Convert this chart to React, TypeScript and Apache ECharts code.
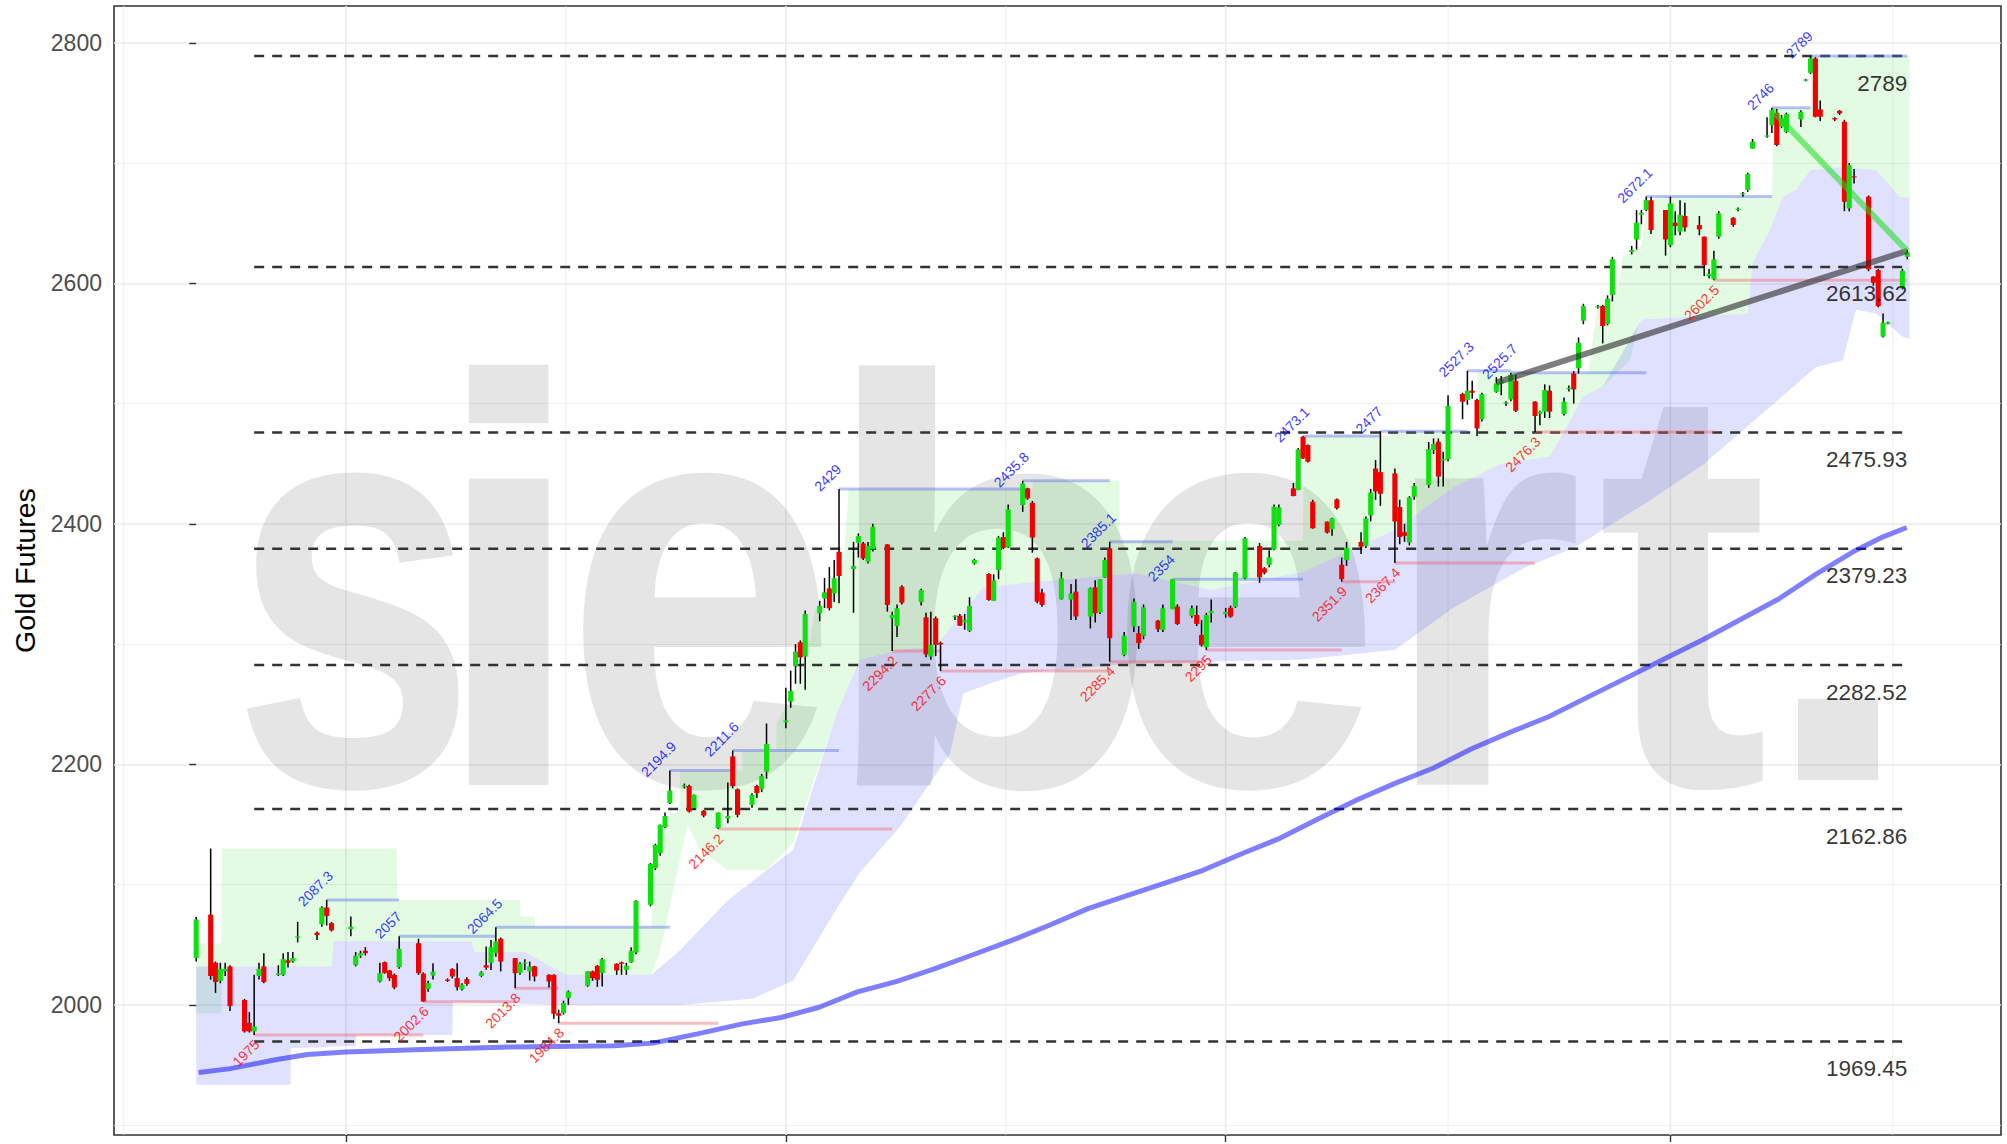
import React, { useEffect, useRef } from "react";
import * as echarts from "echarts";

const FONT = "Liberation Sans, Arial, Helvetica, sans-serif";
const ORIGIN = "2023-12-01";

const candleDates = [
  "2023-12-01","2023-12-04","2023-12-05","2023-12-06","2023-12-07","2023-12-08","2023-12-11","2023-12-12","2023-12-13","2023-12-14",
  "2023-12-15","2023-12-18","2023-12-19","2023-12-20","2023-12-21","2023-12-22","2023-12-26","2023-12-27","2023-12-28","2023-12-29",
  "2024-01-02","2024-01-03","2024-01-04","2024-01-05","2024-01-08","2024-01-09","2024-01-10","2024-01-11","2024-01-12","2024-01-16",
  "2024-01-17","2024-01-18","2024-01-19","2024-01-22","2024-01-23","2024-01-24","2024-01-25","2024-01-26","2024-01-29","2024-01-30",
  "2024-01-31","2024-02-01","2024-02-02","2024-02-05","2024-02-06","2024-02-07","2024-02-08","2024-02-09","2024-02-12","2024-02-13",
  "2024-02-14","2024-02-15","2024-02-16","2024-02-20","2024-02-21","2024-02-22","2024-02-23","2024-02-26","2024-02-27","2024-02-28",
  "2024-02-29","2024-03-01","2024-03-04","2024-03-05","2024-03-06","2024-03-07","2024-03-08","2024-03-11","2024-03-12","2024-03-13",
  "2024-03-15","2024-03-18","2024-03-20","2024-03-21","2024-03-22","2024-03-25","2024-03-26","2024-03-27","2024-03-28","2024-04-01",
  "2024-04-02","2024-04-03","2024-04-04","2024-04-05","2024-04-08","2024-04-09","2024-04-10","2024-04-11","2024-04-12","2024-04-15",
  "2024-04-16","2024-04-17","2024-04-18","2024-04-19","2024-04-22","2024-04-23","2024-04-24","2024-04-25","2024-04-29","2024-04-30",
  "2024-05-01","2024-05-02","2024-05-03","2024-05-06","2024-05-07","2024-05-08","2024-05-09","2024-05-10","2024-05-13","2024-05-14",
  "2024-05-15","2024-05-16","2024-05-17","2024-05-20","2024-05-21","2024-05-22","2024-05-23","2024-05-24","2024-05-28","2024-05-30",
  "2024-05-31","2024-06-03","2024-06-04","2024-06-05","2024-06-06","2024-06-07","2024-06-10","2024-06-12","2024-06-13","2024-06-14",
  "2024-06-17","2024-06-18","2024-06-20","2024-06-21","2024-06-24","2024-06-25","2024-06-26","2024-06-27","2024-06-28","2024-07-01",
  "2024-07-02","2024-07-03","2024-07-05","2024-07-08","2024-07-09","2024-07-10","2024-07-11","2024-07-12","2024-07-15","2024-07-16",
  "2024-07-17","2024-07-18","2024-07-19","2024-07-22","2024-07-23","2024-07-24","2024-07-25","2024-07-26","2024-07-29","2024-07-30",
  "2024-07-31","2024-08-01","2024-08-02","2024-08-05","2024-08-06","2024-08-07","2024-08-08","2024-08-09","2024-08-12","2024-08-13",
  "2024-08-14","2024-08-15","2024-08-16","2024-08-19","2024-08-20","2024-08-21","2024-08-22","2024-08-23","2024-08-26","2024-08-27",
  "2024-08-28","2024-08-29","2024-08-30","2024-09-03","2024-09-04","2024-09-05","2024-09-06","2024-09-09","2024-09-10","2024-09-11",
  "2024-09-12","2024-09-13","2024-09-16","2024-09-17","2024-09-18","2024-09-19","2024-09-23","2024-09-24","2024-09-25","2024-09-26",
  "2024-09-27","2024-09-30","2024-10-01","2024-10-02","2024-10-03","2024-10-04","2024-10-07","2024-10-08","2024-10-09","2024-10-10",
  "2024-10-11","2024-10-14","2024-10-15","2024-10-16","2024-10-17","2024-10-18","2024-10-21","2024-10-22","2024-10-23","2024-10-24",
  "2024-10-25","2024-10-28","2024-10-29","2024-10-30","2024-10-31","2024-11-01","2024-11-04","2024-11-05","2024-11-06","2024-11-07",
  "2024-11-08","2024-11-11","2024-11-12","2024-11-13","2024-11-14","2024-11-15","2024-11-18","2024-11-19",
];
const candleOpen = [
  2039,2075,2035,2020,2028,2032,2004,1985,1978,2024,2032,2025,2025,2037,2036,2056,2060,2067,2081,2068,
  2063,2033,2041,2045,2019.5,2035.5,2028.6,2025,2031.4,2051.3,2026,2013.2,2024.5,2021,2029.7,2022.2,2013,2021.4,2024,2033,
  2035,2043,2055,2038.9,2026.4,2034.5,2027.8,2032,2025,2025,1993,1993.2,2005.6,2015.9,2027.8,2032.5,2026.4,2034.2,2035.3,2029.2,
  2035.3,2043.6,2083.2,2113.6,2126.1,2147.7,2167.7,2181.5,2182,2163.5,2161.3,2146.9,2155,2206.5,2179.3,2166.3,2182,2179.3,2194,2235,
  2252.2,2281.8,2301.5,2289.6,2325.6,2338,2346.3,2342.2,2376.8,2362.4,2384.3,2383.7,2368.5,2378.8,2382.9,2321.5,2315,2347.7,2335,2322.3,
  2289.6,2321.5,2301,2323.4,2323.6,2318,2311,2367,2358.3,2336,2361.6,2389,2380.4,2415.6,2429.5,2417.5,2371.3,2342.8,2337.3,2337,
  2343.6,2322.9,2347.2,2326.2,2355.3,2379.6,2291,2314.6,2309,2306.8,2319.5,2311.8,2329,2331.2,2323.4,2324.2,2307.6,2297.4,2325.6,2325,
  2330.3,2331,2354.7,2381.6,2363,2365.8,2378.8,2399.2,2429.5,2428.1,2472.4,2465.5,2418.4,2401.8,2395.5,2420.4,2366,2370,2385,2381.6,
  2407,2446,2443,2442,2414,2393,2384.5,2422.6,2432.3,2461.4,2468.3,2452.6,2453.7,2508,2503,2510.7,2503,2486.9,2509.8,2516.8,
  2500,2503.5,2519,2501.6,2491.4,2493.3,2510.7,2491.4,2512,2525,2529.3,2568.9,2580,2581.1,2566.2,2590.3,2626,2636.5,2657,2661,
  2669,2661,2631.8,2650.4,2643,2656,2648.5,2638.8,2606,2603.3,2638.8,2654.5,2661.5,2674,2677.5,2712,2722,2731.5,2741.8,2730.2,
  2726,2736.3,2768.5,2775,2787,2744.6,2737.4,2743.5,2734.3,2662.3,2689,2672,2605.5,2611,2555.7,2566.7,2595.8,2622,
];
const candleHigh = [
  2073,2130,2036,2035,2035,2033,2005,1994,2025,2035,2043,2033,2043,2044,2044,2069,2061,2082,2087.3,2069,
  2073.5,2044,2045,2048,2035,2036,2029,2026,2057,2055,2027,2020,2034.7,2022,2030.5,2034.7,2018,2023,2028,2048.6,
  2054,2064.5,2056,2039,2035.5,2038,2036,2032.5,2025.5,2025.5,1996,2003.5,2012,2028,2028.5,2033,2039,2034.5,2036,2035,
  2048,2087,2118,2134,2150,2160,2194.9,2184,2183,2175,2162,2160,2185,2211.6,2180,2176,2183,2192,2234,2263.8,
  2278,2300,2303,2328,2336,2355,2364,2370,2429,2385,2392,2385,2385,2400,2383,2327,2333,2349,2346,2326,
  2327,2323,2302,2324,2325,2325,2339,2371,2359,2358,2390,2393,2416,2435.8,2430,2419,2372,2346,2360,2350,
  2354,2347,2353,2354,2372,2385.1,2310,2338,2315,2333,2320,2333,2354,2333,2332,2332,2320,2326,2337,2330,
  2332,2360,2389,2384,2364,2378,2416,2416,2434,2463,2473.1,2466,2420,2402,2405,2421,2372,2385,2393,2406,
  2429,2453,2477,2446,2420,2400,2423,2434,2468,2471,2471,2460,2507,2509,2527.3,2519,2504,2509,2522,2523,
  2502,2525.7,2524,2502,2494,2516,2515,2505,2515,2527,2555,2583,2582,2582,2590,2622,2631,2661,2661,2672.1,
  2672,2661,2672,2660,2669,2667,2656,2639,2612,2627,2660,2655,2663,2676,2692,2720,2738,2746,2745,2740,
  2742,2744,2770,2789,2788,2752,2738,2744,2736,2700,2695,2673,2606,2612,2575,2568,2612,2628,
];
const candleLow = [
  2036,2021,2010,2018,2024,1995,1977,1977,1975,2021,2018,2024,2024,2031,2035,2052,2054,2065,2066,2061,
  2057,2032,2039,2041,2018.6,2026,2020,2013,2030,2025,2002.6,2011,2021,2019,2022,2012,2012,2016,2023,2029.2,
  2029,2040,2027.8,2013.8,2025,2029,2020.3,2019.5,2014.5,1988.5,1984.8,1992,2000,2015,2020,2015,2015.3,2025,2025,2025,
  2035,2042,2082,2112,2124,2147,2167,2180,2160,2162,2156,2146.2,2151,2180,2156,2164,2172,2177,2188,2230,
  2247,2267,2267,2262,2319,2330,2328,2335,2334,2326,2372,2370,2367,2377,2327,2294.2,2306,2333,2332,2289,
  2287,2290,2277.6,2320,2315,2312,2310,2366,2336,2336,2354,2379,2380,2410,2420,2376,2334,2331,2337,2320,
  2320,2313,2318,2325,2355,2285.4,2290,2310,2296,2304,2310,2310,2329,2316,2322,2315,2298,2295,2318,2322,
  2322,2330,2354,2351,2358,2364,2378,2398,2423,2428,2454,2451,2396,2392,2390,2412,2351.9,2365,2375,2380,
  2402,2420,2415,2367.4,2383,2385,2382,2420,2430,2458,2431,2431,2452,2487,2499,2504,2473,2485,2509,2507,
  2498,2502,2493,2476.3,2482,2488,2488,2490,2510,2500,2525,2566,2579,2550,2565,2585,2624,2628,2649,2660,
  2641,2623,2630,2640,2640,2643,2640,2606,2604,2602.5,2637,2647,2660,2672,2676,2712,2721,2725,2714,2729,
  2725,2730,2768,2774,2738,2735,2735,2740,2660,2660,2683,2610,2598,2580,2555,2566,2595,2620,
];
const candleClose = [
  2071,2024,2019,2030,2030,1999,1978,1978,1982,2030,2019,2026,2038,2035,2039,2057,2058,2081,2074,2062,
  2065,2041,2043,2043,2026.4,2026.4,2022.2,2014.5,2046.6,2026.4,2002.8,2018.1,2027.6,2020,2023.6,2014.8,2016.7,2017.5,2027,2031,
  2048,2052.7,2036,2026.4,2034.2,2035.3,2032,2023.6,2019.5,1992.6,1991,2001.5,2011.1,2027.8,2022.2,2020.8,2038,2028.6,2034.2,2032.5,
  2045,2086.5,2117.3,2133,2149.7,2157.1,2178.2,2182.5,2160.7,2174.6,2157.4,2159.9,2157,2182,2158,2174.6,2176,2190.4,2217,2236.5,
  2261,2293.7,2289,2325,2331.7,2343,2329.8,2354.7,2356.6,2364.9,2389.8,2371.3,2381.5,2397.6,2332.5,2324.2,2329.8,2334.4,2345,2291.5,
  2299.3,2299.3,2299.8,2323.6,2315.3,2320,2331.7,2370,2336.7,2353,2388.5,2380,2412,2433.6,2421.1,2388.7,2335.3,2332.5,2354.7,2342,
  2322.9,2346.4,2325.6,2353.9,2370,2304.9,2307,2335.3,2300.7,2330.6,2312.3,2329.8,2353.9,2316.8,2329.8,2316.8,2299.3,2324.2,2327.6,2327,
  2322.9,2359.4,2388,2355.5,2359.4,2372.2,2414.3,2413.7,2423.1,2461.9,2454.4,2451.7,2396.3,2392.7,2404.6,2413,2354,2380,2381,2404.6,
  2426,2427,2425,2402,2389,2390,2422,2431.5,2462,2466.4,2439.3,2453.9,2498,2501.6,2510.7,2509,2479.4,2507.9,2516.8,2519,
  2501,2524,2494,2489.7,2493.3,2511.3,2493.3,2501.6,2513,2511.8,2550.6,2581.1,2581,2564.5,2587.4,2620,2627.7,2650.4,2658.7,2669.2,
  2644.3,2636.5,2666.5,2647.6,2656.8,2646.5,2644.9,2615.2,2608,2619.9,2658.2,2648.5,2662,2675,2690.8,2717.7,2723,2744,2715,2737,
  2740.7,2742.6,2769.5,2787,2738.5,2738.5,2736.3,2741.3,2667.8,2698.3,2688.6,2611.6,2600.5,2581,2567.3,2567.5,2610.5,2626,
];

// Moving average: day offset / value
const maDays = [0.5,7.1,16.4,23,31,46.8,65.4,86.5,94.5,103.7,113,121,128.9,136.8,144.8,152.7,160.7,168.6,176.5,184.5,192.4,200.4,208.3,216.3,224.2,232.1,240.1,248,256,263.9,271.9,279.8,287.7,295.7,303.6,311.6,319.5,327.4,335.4,343.3,348.6,353.9];
const maValues = [1943.8,1947,1954.4,1958.7,1960.8,1962.9,1965,1966,1968.2,1975.9,1984.2,1989.5,1998,2010.8,2019.3,2030,2041.7,2053.4,2066.2,2080,2090.6,2101.2,2111.9,2125.7,2138.5,2154.5,2170.4,2184.2,2197,2213,2226.8,2239.6,2255.5,2271.5,2287.4,2303.4,2320.4,2337.5,2358.8,2377.9,2388.5,2397];

// Upper (green) band edges: day offset / value
const greenTopDays = [0,5.2,5.3,41.5,41.6,67,67.1,70,70.1,94.2,94.3,95,96,97,98,100,100.1,113,113.1,120,120.1,124,125,126,127,128,131,132,133,134,135,173,173.1,191,191.1,229,229.1,247,247.1,265,265.1,274,274.1,288,289,290,294,295,299,300,302,326,326.5,334,334.1,354.5];
const greenTopValues = [2051,2051,2130,2130,2087.3,2087.3,2073.5,2073.5,2064.5,2064.5,2087,2118,2134,2150,2160,2160,2194.9,2194.9,2211.6,2211.6,2234,2264,2278,2300,2303,2328,2336,2355,2364,2370,2429,2429,2435.8,2435.8,2386,2386,2473.1,2473.1,2477,2477,2527.3,2527.3,2525.7,2525.7,2555,2583,2590,2622,2631,2661,2672.1,2672.1,2746,2746,2789,2789];
const greenBottomDays = [0,5.2,5.3,28,28.5,57,57.5,68,76.5,94.2,96,99,101.7,104,110,118,123.5,132.5,137.3,145.6,153,162.8,171.8,194.4,210,229,248,260,270,280,284,287,291,296.6,298.7,321,322,325.5,328.3,331,334,340.7,347.6,352.4,354.5];
const greenBottomValues = [1993,1993,2032,2032,2053,2053,2044,2044,2025,2025,2045,2100,2150,2130,2112,2112,2135,2242,2287,2295,2298,2347,2351,2359,2345,2360,2395,2430,2450,2456,2484,2506,2514,2536,2570,2575,2617,2644,2672,2678,2694,2697,2694,2672,2671];

// Lower (blue) band edges: day offset / value
const blueTopDays = [0,28,28.5,57,57.5,68,76.5,94.2,100,110,118,123.5,132.5,137.3,145.6,153,162.8,171.8,194.4,210,229,248,260,270,280,284,287,291,299,321,322,325.5,328.3,331,334,340.7,347.6,352.4,354.5];
const blueTopValues = [2032,2032,2053,2053,2044,2044,2025,2025,2045,2087,2112,2129,2242,2287,2295,2298,2347,2351,2359,2345,2360,2395,2430,2450,2456,2484,2506,2514,2570,2575,2617,2644,2672,2678,2694,2697,2694,2672,2671];
const blueBottomDays = [0,19.5,19.6,33,33.1,53,53.1,76.5,100,115,123.5,132.5,137.3,145.6,156,158.7,164.8,171,194.4,228.3,248,260,275,285,301,312,325,335,340.7,343.4,347.6,352.9,354.5];
const blueBottomValues = [1933.5,1933.5,1964,1966,1975,1975,2002.6,2000,2000,2005,2020,2080,2110,2148,2209,2259,2268,2276,2284,2287,2295,2330,2364,2380,2420,2450,2495,2530,2536,2578,2575,2556,2554];

// Swing highs (blue) and swing lows (red) with their labels
const swingHighDates = ["2023-12-28","2024-01-12","2024-02-01","2024-03-08","2024-03-21","2024-04-12","2024-05-20","2024-06-07","2024-06-20","2024-07-17","2024-08-02","2024-08-20","2024-08-29","2024-09-26","2024-10-22","2024-10-30"];
const swingHighValues = [2087.3,2057,2064.5,2194.9,2211.6,2429,2435.8,2385.1,2354,2473.1,2477,2527.3,2525.7,2672.1,2746,2789];
const swingLowDates = ["2023-12-13","2024-01-17","2024-02-05","2024-02-14","2024-03-18","2024-04-23","2024-05-03","2024-06-07","2024-06-27","2024-07-25","2024-08-05","2024-09-03","2024-10-10"];
const swingLowValues = [1975,2002.6,2013.8,1984.8,2146.2,2294.2,2277.6,2285.4,2295,2351.9,2367.4,2476.3,2602.5];

// Fibonacci retracement levels
const fibStartDate = "2023-12-13";
const fibLevels = [2789, 2613.62, 2475.93, 2379.23, 2282.52, 2162.86, 1969.45];

// Trend lines
const grayTrendDates = ["2024-08-26", "2024-11-19"];
const grayTrendValues = [2517.5, 2627];
const greenTrendDates = ["2024-10-22", "2024-11-19"];
const greenTrendValues = [2744, 2627];

// Axis breaks
const xMajorBreaks = ["2023-10-01", "2024-01-01", "2024-04-01", "2024-07-01", "2024-10-01", "2025-01-01"];
const yTickValues = [2000, 2200, 2400, 2600, 2800];
const X_MIN = -17.0;
const X_MAX = 373.4;
const Y_MIN = 1891.8;
const Y_MAX = 2830.6;

// Watermark word (its final full stop is drawn as a square block)
const watermarkWord = "siebert";

const dayOf = (s: string) => (Date.parse(s) - Date.parse(ORIGIN)) / 86400000;

export default function App() {
  const ref = useRef<HTMLDivElement>(null);
  useEffect(() => {
    if (!ref.current) return;
    const chart = echarts.init(ref.current, null, { renderer: "svg" });

    const candleData = candleDates.map((d, i) => [dayOf(d), candleOpen[i], candleHigh[i], candleLow[i], candleClose[i]]);
    const lastDay = dayOf(candleDates[candleDates.length - 1]);
    const majorDays = xMajorBreaks.map(dayOf);
    const minorDays: number[] = [];
    for (let i = 1; i < majorDays.length; i++) minorDays.push((majorDays[i] + majorDays[i - 1]) / 2);
    const inRange = (v: number) => v > X_MIN && v < X_MAX;
    const majorIn = majorDays.filter(inRange);
    const minorIn = minorDays.filter(inRange);

    const highSeg = swingHighDates.map((d, i) => [dayOf(d), i + 1 < swingHighDates.length ? dayOf(swingHighDates[i + 1]) : lastDay, swingHighValues[i]]);
    const lowSeg = swingLowDates.map((d, i) => [dayOf(d), i + 1 < swingLowDates.length ? dayOf(swingLowDates[i + 1]) : lastDay, swingLowValues[i]]);
    const fibSeg = fibLevels.map((v) => [dayOf(fibStartDate), lastDay, v]);

    // watermark letter layout (pixel centres and horizontal squeeze per glyph)
    const letterX = [354, 509, 701, 990, 1245, 1482, 1683];
    const letterScale = [0.76, 1.0, 0.85, 0.96, 0.85, 0.9, 0.89];
    const watermark: any[] = watermarkWord.split("").map((ch, i) => ({
      type: "text",
      x: letterX[i],
      y: 584,
      scaleX: letterScale[i],
      z: 1,
      silent: true,
      style: {
        text: ch,
        fontSize: 580,
        fontWeight: "bold",
        fontFamily: "Liberation Sans",
        fill: "rgba(0,0,0,0.1)",
        align: "center",
        verticalAlign: "middle",
      },
    }));
    watermark.push({ type: "rect", z: 1, silent: true, shape: { x: 1798, y: 699, width: 80, height: 81 }, style: { fill: "rgba(0,0,0,0.1)" } });

    const bandSeries = (name: string, tD: number[], tV: number[], bD: number[], bV: number[], color: string) => ({
      type: "custom",
      name,
      z: 2,
      silent: true,
      clip: true,
      data: [[tD[0], tV[0]]],
      encode: { x: 0, y: 1 },
      renderItem: (params: any, api: any) => {
        const pts: number[][] = [];
        for (let i = 0; i < tD.length; i++) pts.push(api.coord([tD[i], tV[i]]));
        for (let i = bD.length - 1; i >= 0; i--) pts.push(api.coord([bD[i], bV[i]]));
        return { type: "polygon", shape: { points: pts }, style: { fill: color } };
      },
    });

    const segSeries = (name: string, data: number[][], style: any, z: number) => ({
      type: "custom",
      name,
      z,
      silent: true,
      clip: true,
      data,
      encode: { x: [0, 1], y: 2 },
      renderItem: (params: any, api: any) => {
        const a = api.coord([api.value(0), api.value(2)]);
        const b = api.coord([api.value(1), api.value(2)]);
        return { type: "line", shape: { x1: a[0], y1: a[1], x2: b[0], y2: b[1] }, style };
      },
    });

    const option: any = {
      animation: false,
      grid: { left: 114, right: 6, top: 6, bottom: 9, show: true, borderColor: "#333333", borderWidth: 1.6, backgroundColor: "#ffffff" },
      graphic: watermark,
      xAxis: {
        type: "value",
        min: X_MIN,
        max: X_MAX,
        axisLine: { show: false },
        axisLabel: { show: false },
        axisTick: { show: true, length: 7, lineStyle: { color: "#333333", width: 1.4 }, customValues: majorIn },
        splitLine: { show: false },
      },
      yAxis: {
        type: "value",
        min: Y_MIN,
        max: Y_MAX,
        name: "Gold Futures",
        nameLocation: "middle",
        nameGap: 74,
        nameTextStyle: { fontSize: 28.5, color: "#000000", fontFamily: FONT },
        axisLine: { show: false },
        axisTick: { show: true, length: 7, lineStyle: { color: "#333333", width: 1.4 }, customValues: yTickValues },
        axisLabel: { customValues: yTickValues, margin: 12, color: "#4d4d4d", fontSize: 23, fontFamily: FONT, formatter: (v: number) => String(v) },
        splitLine: { show: true, lineStyle: { color: "#ebebeb", width: 1.6 } },
        minorTick: { show: false, splitNumber: 2 },
        minorSplitLine: { show: true, lineStyle: { color: "#ebebeb", width: 0.8 } },
      },
      series: [
        {
          type: "custom",
          name: "xgrid",
          z: 0,
          silent: true,
          data: majorIn.map((d) => [d, 1.6]).concat(minorIn.map((d) => [d, 0.8])),
          encode: { x: 0 },
          renderItem: (params: any, api: any) => {
            const a = api.coord([api.value(0), Y_MIN]);
            const b = api.coord([api.value(0), Y_MAX]);
            return { type: "line", shape: { x1: a[0], y1: a[1], x2: b[0], y2: b[1] }, style: { stroke: "#ebebeb", lineWidth: api.value(1) } };
          },
        },
        bandSeries("green band", greenTopDays, greenTopValues, greenBottomDays, greenBottomValues, "rgba(0,220,0,0.11)"),
        bandSeries("blue band", blueTopDays, blueTopValues, blueBottomDays, blueBottomValues, "rgba(0,0,255,0.12)"),
        {
          type: "line",
          name: "MA",
          z: 3,
          silent: true,
          showSymbol: false,
          symbol: "none",
          data: maDays.map((d, i) => [d, maValues[i]]),
          lineStyle: { color: "rgba(0,0,255,0.5)", width: 5 },
        },
        segSeries("fib", fibSeg, { stroke: "#333333", lineWidth: 2.5, lineDash: [10, 8] }, 3),
        segSeries("resistance", highSeg, { stroke: "rgba(80,100,235,0.4)", lineWidth: 3 }, 3),
        segSeries("support", lowSeg, { stroke: "rgba(240,90,100,0.4)", lineWidth: 3 }, 3),
        {
          type: "custom",
          name: "candles",
          z: 4,
          silent: true,
          clip: true,
          data: candleData,
          encode: { x: 0, y: [1, 2, 3, 4] },
          renderItem: (params: any, api: any) => {
            const x = api.value(0);
            const o = api.value(1);
            const h = api.value(2);
            const l = api.value(3);
            const c = api.value(4);
            const top = api.coord([x, h]);
            const bot = api.coord([x, l]);
            const po = api.coord([x, o]);
            const pc = api.coord([x, c]);
            const w = api.size([1.05, 0])[0];
            const y0 = Math.min(po[1], pc[1]);
            const hh = Math.max(Math.abs(po[1] - pc[1]), 1.2);
            return {
              type: "group",
              children: [
                { type: "line", shape: { x1: top[0], y1: top[1], x2: bot[0], y2: bot[1] }, style: { stroke: "#000000", lineWidth: 1.5 } },
                { type: "rect", shape: { x: top[0] - w / 2, y: y0, width: w, height: hh }, style: { fill: c >= o ? "#10e010" : "#f00000" } },
              ],
            };
          },
        },
        {
          type: "line",
          name: "gray trend",
          z: 5,
          silent: true,
          symbol: "none",
          data: grayTrendDates.map((d, i) => [dayOf(d), grayTrendValues[i]]),
          lineStyle: { color: "rgba(40,40,40,0.6)", width: 6 },
        },
        {
          type: "line",
          name: "green trend",
          z: 5,
          silent: true,
          symbol: "none",
          data: greenTrendDates.map((d, i) => [dayOf(d), greenTrendValues[i]]),
          lineStyle: { color: "rgba(30,220,30,0.55)", width: 6 },
        },
        {
          type: "scatter",
          name: "high labels",
          z: 6,
          silent: true,
          symbolSize: 1,
          itemStyle: { color: "rgba(0,0,0,0)" },
          data: swingHighDates.map((d, i) => [dayOf(d), swingHighValues[i]]),
          label: {
            show: true,
            position: "inside",
            rotate: 45,
            align: "center",
            verticalAlign: "middle",
            offset: [0, -16],
            color: "#0000ff",
            fontSize: 14,
            fontFamily: FONT,
            formatter: (p: any) => String(p.value[1]),
          },
        },
        {
          type: "scatter",
          name: "low labels",
          z: 6,
          silent: true,
          symbolSize: 1,
          itemStyle: { color: "rgba(0,0,0,0)" },
          data: swingLowDates.map((d, i) => [dayOf(d), swingLowValues[i]]),
          label: {
            show: true,
            position: "inside",
            rotate: 45,
            align: "right",
            verticalAlign: "middle",
            offset: [-3, 7],
            color: "#ff0000",
            fontSize: 14,
            fontFamily: FONT,
            formatter: (p: any) => String(p.value[1]),
          },
        },
        {
          type: "scatter",
          name: "fib labels",
          z: 6,
          silent: true,
          symbolSize: 1,
          itemStyle: { color: "rgba(0,0,0,0)" },
          data: fibLevels.map((v) => [lastDay, v]),
          label: {
            show: true,
            position: "inside",
            align: "right",
            verticalAlign: "middle",
            offset: [0, 27],
            color: "#000000",
            fontSize: 22.5,
            fontFamily: FONT,
            formatter: (p: any) => String(p.value[1]),
          },
        },
      ],
    };
    chart.setOption(option);
    return () => chart.dispose();
  }, []);
  return <div ref={ref} style={{ position: "fixed", left: 0, top: 0, width: 2007, height: 1144, background: "#fff" }} />;
}
